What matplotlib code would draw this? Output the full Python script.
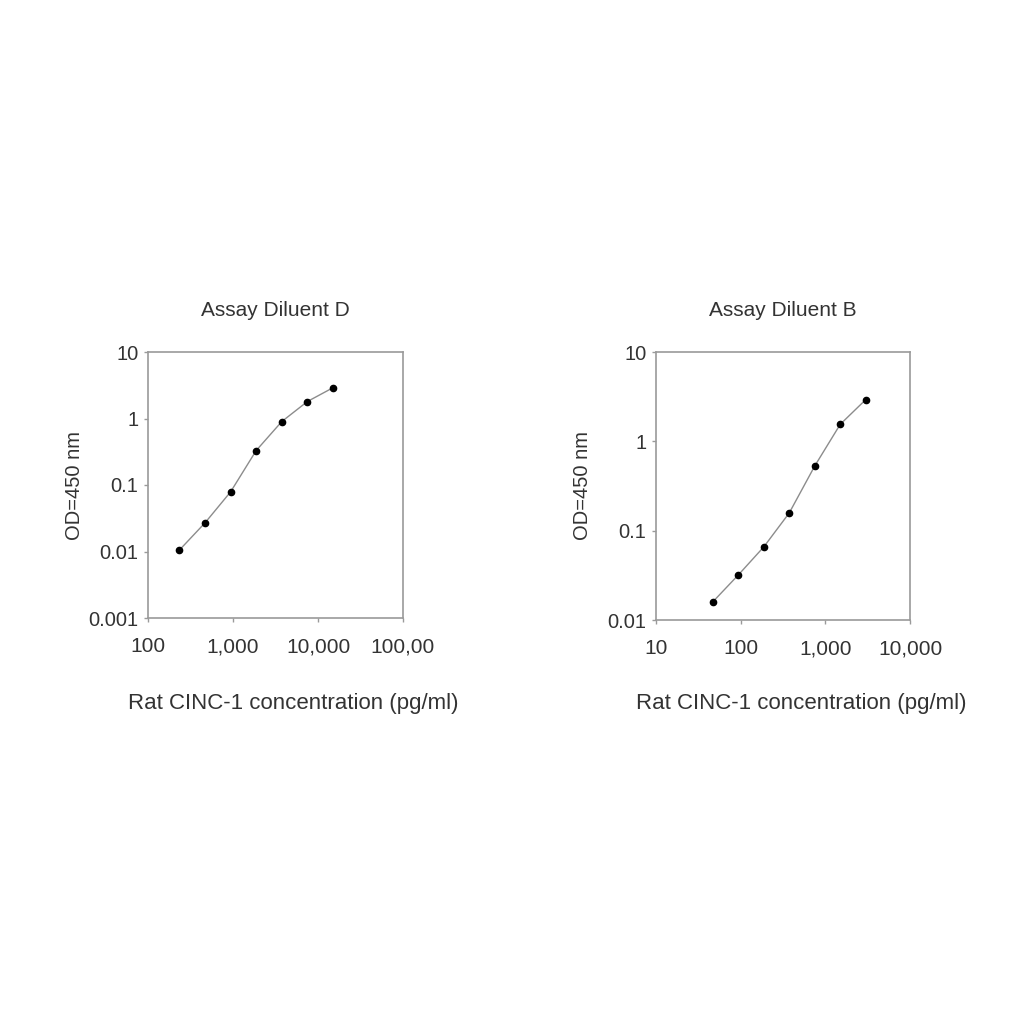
import matplotlib.pyplot as plt

plt.rcParams['font.family'] = ['Liberation Sans', 'DejaVu Sans']

# Assay Diluent D
conc_d = [234, 469, 938, 1875, 3750, 7500, 15000]
od_d = [0.0105, 0.027, 0.079, 0.33, 0.90, 1.80, 2.9]
xticks_d = [100, 1000, 10000, 100000]
xlabels_d = ["100", "1,000", "10,000", "100,00"]
yticks_d = [0.001, 0.01, 0.1, 1, 10]
ylabels_d = ["0.001", "0.01", "0.1", "1", "10"]

# Assay Diluent B
conc_b = [47, 94, 188, 375, 750, 1500, 3000]
od_b = [0.016, 0.032, 0.066, 0.158, 0.53, 1.55, 2.93]
xticks_b = [10, 100, 1000, 10000]
xlabels_b = ["10", "100", "1,000", "10,000"]
yticks_b = [0.01, 0.1, 1, 10]
ylabels_b = ["0.01", "0.1", "1", "10"]

txt = "#333333"
spine_c = "#9a9a9a"

fig = plt.figure(figsize=(10.24, 10.24), dpi=100)

panels = [
    ([148/1024, 1 - 618/1024, 255/1024, 266/1024], "Assay Diluent D",
     conc_d, od_d, xticks_d, xlabels_d, yticks_d, ylabels_d, (100, 100000), (0.001, 10)),
    ([656/1024, 1 - 620/1024, 254/1024, 268/1024], "Assay Diluent B",
     conc_b, od_b, xticks_b, xlabels_b, yticks_b, ylabels_b, (10, 10000), (0.01, 10)),
]

for rect, title, xs, ys, xt, xl, yt, yl, xlim, ylim in panels:
    ax = fig.add_axes(rect)
    ax.plot(xs, ys, '-', color="#8c8c8c", lw=1.0, zorder=2)
    ax.plot(xs, ys, 'o', color="black", ms=4.5, zorder=3)
    ax.set_xscale('log')
    ax.set_yscale('log')
    ax.set_xlim(*xlim)
    ax.set_ylim(*ylim)
    ax.set_xticks(xt)
    ax.set_xticklabels(xl)
    ax.set_yticks(yt)
    ax.set_yticklabels(yl)
    ax.minorticks_off()
    ax.tick_params(axis='x', length=3, width=1, color=spine_c, pad=11,
                   labelsize=15, labelcolor=txt)
    ax.tick_params(axis='y', length=3, width=1, color=spine_c, pad=4,
                   labelsize=14.5, labelcolor=txt)
    for s in ax.spines.values():
        s.set_color(spine_c)
        s.set_linewidth(1.2)
    cx = rect[0] + rect[2] / 2
    fig.text(cx, 1 - 311/1024, title, ha='center', va='center',
             fontsize=15, color=txt)
    fig.text(cx + 18/1024, 1 - 703/1024, "Rat CINC-1 concentration (pg/ml)",
             ha='center', va='center', fontsize=16, color=txt)
    fig.text(rect[0] - 74/1024, 1 - 486/1024, "OD=450 nm", rotation=90,
             ha='center', va='center', fontsize=14.5, color=txt)

fig.savefig("out.png", dpi=100, facecolor="white")
